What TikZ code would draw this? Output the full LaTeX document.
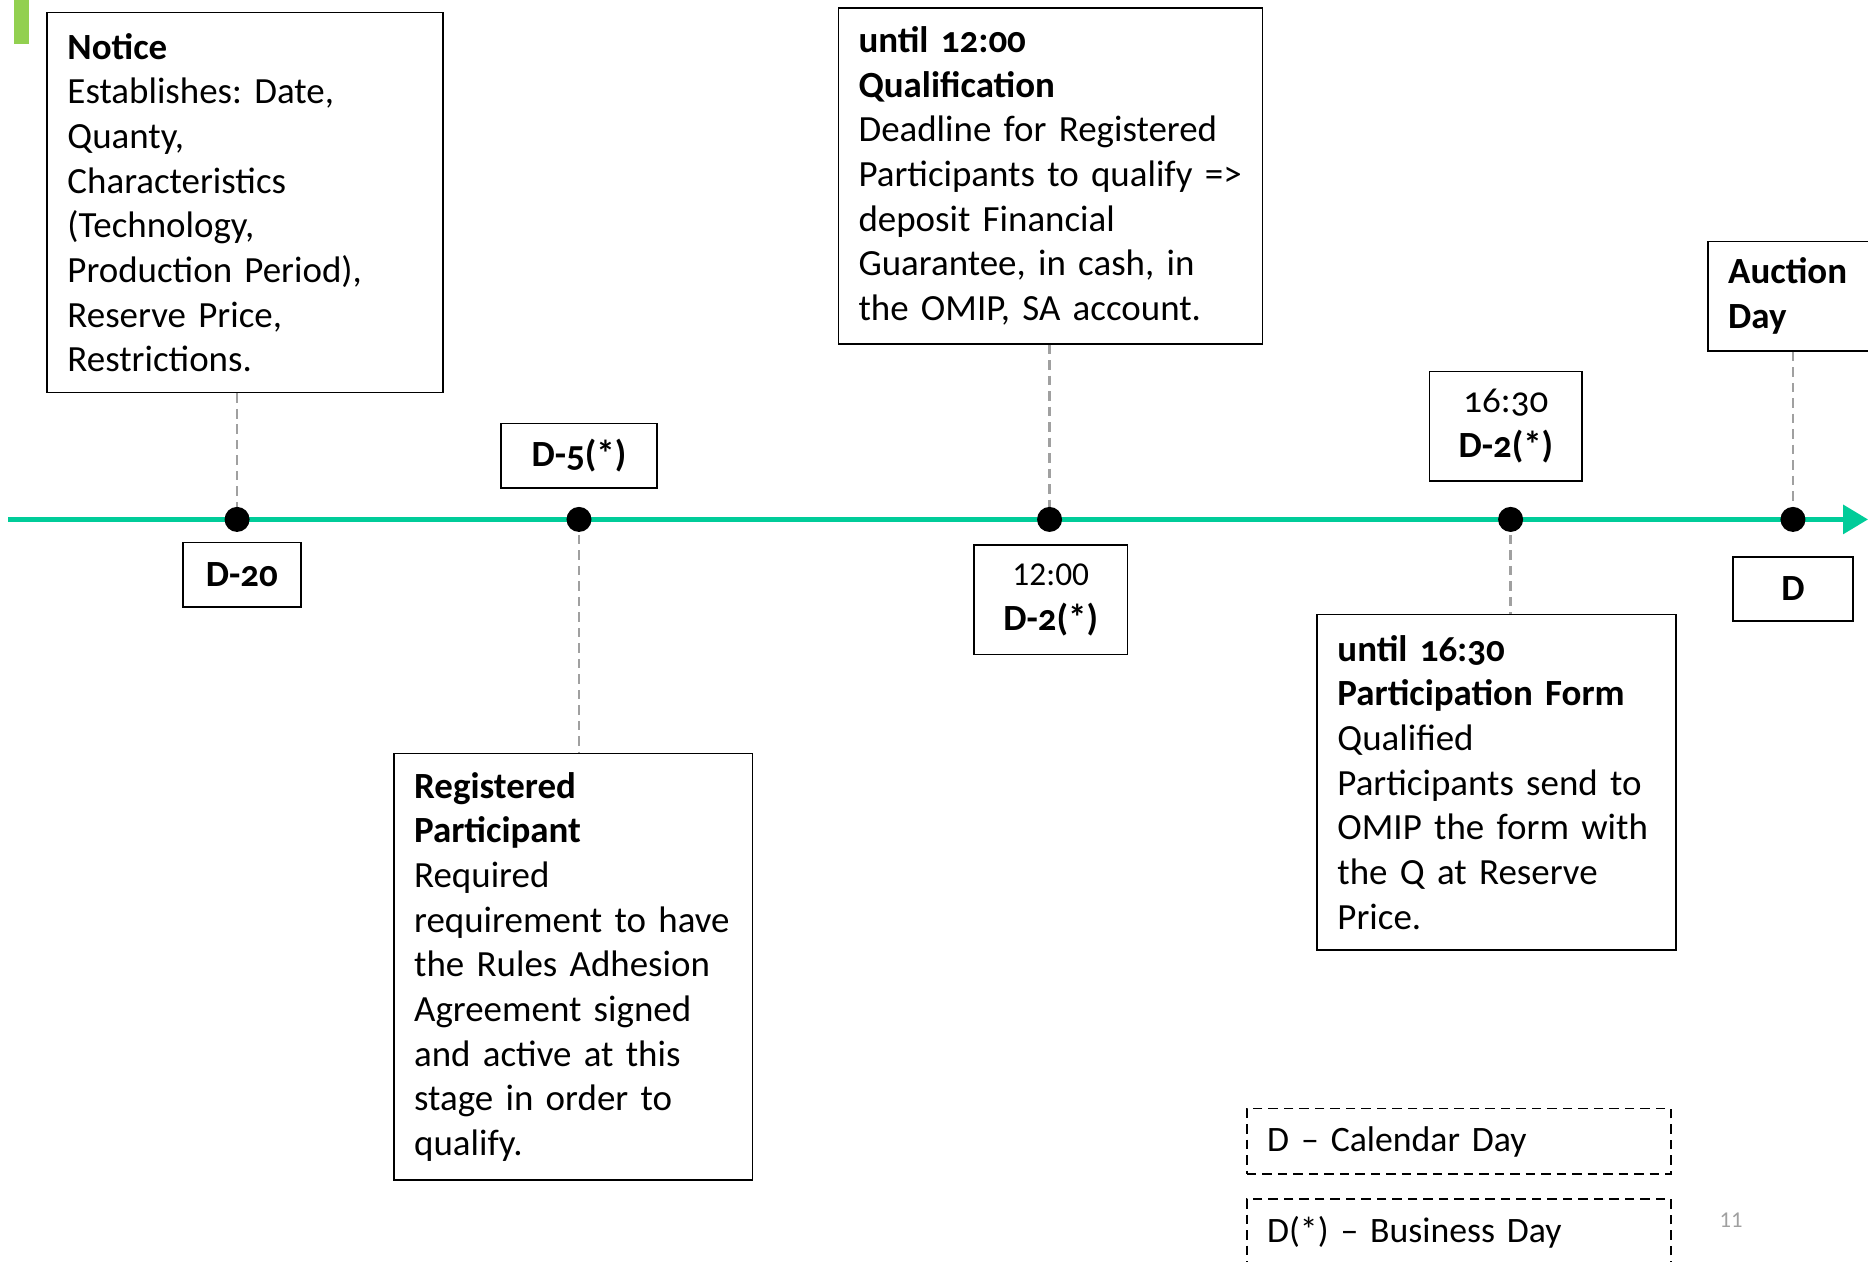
\documentclass[tikz,border=0pt]{standalone}
\usepackage{fontspec}
\setmainfont{Carlito}[Numbers=OldStyle, WordSpace=0.8]
\newfontfamily\lining{Carlito}[WordSpace=0.75]
\frenchspacing
\usetikzlibrary{positioning,arrows.meta}
\definecolor{tline}{RGB}{0,204,153}
\definecolor{tgreen}{RGB}{146,208,80}
\definecolor{tgray}{RGB}{160,160,160}

\begin{document}
\begin{tikzpicture}[x=1pt, y=1pt, font=\fontsize{31}{37.5}\selectfont,
    box/.style = {draw, line width=1.3pt, align=left, inner xsep=17pt, inner ysep=0pt, anchor=north west},
    tag/.style = {draw, line width=1.3pt, align=center, inner sep=0pt, minimum height=54pt, font=\fontsize{31}{37.5}\selectfont\bfseries},
    legend/.style = {box, dash pattern=on 8pt off 5pt, text width=322pt, minimum height=55pt, font=\fontsize{30}{36}\selectfont\lining},
    dot/.style = {circle, fill=black, inner sep=0pt, minimum size=21pt},
    link/.style = {tgray, line width=2pt, dash pattern=on 8pt off 5pt}]
    \useasboundingbox (0,0) rectangle (1568,-1059);
    \fill[tgreen] (12,0) rectangle (24,-37);
    % time line
    \draw[tline, line width=4pt, -{Triangle[length=21pt,width=24pt]}] (7,-436) -- (1568,-436);
    \coordinate (t1) at (199,-436);
    \coordinate (t2) at (486,-436);
    \coordinate (t3) at (881,-436);
    \coordinate (t4) at (1268,-436);
    \coordinate (t5) at (1505,-436);
    % boxes
    \node[box, text width=298pt, minimum height=319pt] (notice) at (39,-10) {\textbf{Notice}\\Establishes: Date,\\Quanty,\\Characteristics\\(Technology,\\Production Period),\\Reserve Price,\\Restrictions.};
    \node[box, text width=322pt, minimum height=282pt] (qual) at (703,-6) {\textbf{until 12:00}\\\textbf{Qualification}\\Deadline for Registered\\Participants to qualify =>\\deposit Financial\\Guarantee, in cash, in\\the OMIP, SA account.};
    \node[box, text width=267pt, minimum height=358pt] (reg) at (330,-632) {\textbf{Registered}\\\textbf{Participant}\\Required\\requirement to have\\the Rules Adhesion\\Agreement signed\\and active at this\\stage in order to\\qualify.};
    \node[box, text width=267pt, minimum height=282pt] (form) at (1105,-515) {\textbf{until 16:30}\\\textbf{Participation Form}\\Qualified\\Participants send to\\OMIP the form with\\the Q at Reserve\\Price.};
    \node[box, text width=130pt, minimum height=92pt, font=\fontsize{31}{37.5}\selectfont\bfseries] (auction) at (1433,-202) {Auction\\Day};
    % links
    \draw[link] (notice.south -| t1) -- (t1);
    \draw[link] (t2) -- (t2 |- reg.north);
    \draw[link] (qual.south -| t3) -- (t3);
    \draw[link] (t4) -- (t4 |- form.north);
    \draw[link] (auction.south -| t5) -- (t5);
    % dots and tags
    \foreach \i in {1,...,5}
        \node[dot] (d\i) at (t\i) {};
    \node[tag, minimum width=99pt, below=8pt of d1, xshift=4pt] (tag1) {D-20};
    \node[tag, minimum width=131pt, above=15pt of d2] (tag2) {D-5(*)};
    \node[tag, minimum width=129pt, minimum height=92pt, below=10pt of d3, xshift=1pt] (tag3) {{\mdseries\lining\fontsize{28}{37.5}\selectfont 12:00}\\D-2(*)};
    \node[tag, minimum width=128pt, minimum height=92pt, above=21pt of d4, xshift=-4pt] (tag4) {{\mdseries 16:30}\\D-2(*)};
    \node[tag, minimum width=101pt, below=20pt of d5] (tag5) {D};
    % legend
    \node[legend] (leg1) at (1046,-930) {D – Calendar Day};
    \node[legend] (leg2) at (1046,-1006) {D(*) – Business Day};
    \node[text=tgray, font=\fontsize{19}{22}\selectfont\lining] (page) at (1453,-1024) {11};
\end{tikzpicture}
\end{document}
